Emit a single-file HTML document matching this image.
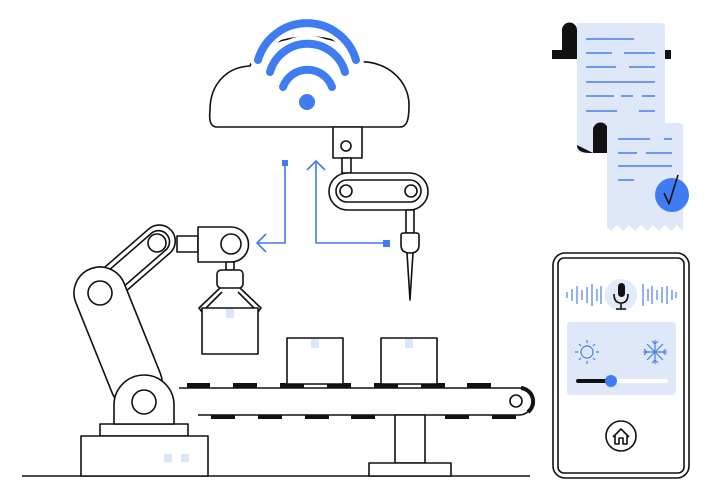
<!DOCTYPE html>
<html><head><meta charset="utf-8"><style>html,body{margin:0;padding:0;background:#fff}svg{display:block}</style></head>
<body>
<svg width="713" height="500" viewBox="0 0 713 500" xmlns="http://www.w3.org/2000/svg" fill="none" stroke="#111" stroke-width="1.6" stroke-linejoin="round">
<!-- ground -->
<line x1="22" y1="476" x2="530" y2="476"/>
<!-- cloud -->
<path d="M217 127 C210 127 209 120 210 110 C210 85 226 67 250 66 C262 28 352 28 358 62 C386 60 409 80 409 105 C409 120 407 127 400 127 Z" fill="#fff"/>
<g stroke-linecap="round">
<path d="M258 60 A51 51 0 0 1 356 60" stroke="#fff" stroke-width="16"/>
<path d="M270 72 A39 39 0 0 1 345 72" stroke="#fff" stroke-width="16"/>
<path d="M258 60 A51 51 0 0 1 356 60" stroke="#3f7cf2" stroke-width="8"/>
<path d="M270 72 A39 39 0 0 1 345 72" stroke="#3f7cf2" stroke-width="8"/>
<path d="M283 87 A26 26 0 0 1 332 87" stroke="#3f7cf2" stroke-width="8"/>
</g>
<circle cx="307" cy="102" r="8" fill="#3f7cf2" stroke="none"/>
<!-- top robot -->
<rect x="333" y="127" width="29" height="31" fill="#fff"/>
<circle cx="346" cy="146" r="5"/>
<rect x="342" y="158" width="9" height="15" fill="#fff"/>
<rect x="329" y="173" width="99" height="37" rx="18.5" fill="#fff"/>
<rect x="336" y="180" width="85" height="22" rx="11"/>
<circle cx="346" cy="191" r="6"/><circle cx="411" cy="191" r="6"/>
<rect x="406" y="210" width="8" height="23" fill="#fff"/>
<path d="M401 235 Q401 233 404 233 L416 233 Q419 233 419 235 L419 245 Q419 253 410 253 Q401 253 401 245 Z" fill="#fff"/>
<path d="M407 253 L410 300 L413 253"/>
<!-- blue connectors -->
<g stroke="#3f7cf2" stroke-width="1.6">
<path d="M285 163 V243 H257"/><path d="M266 234 L257 243 L266 252"/>
<path d="M316 161 V243 H386"/><path d="M307 170 L316 161 L325 170"/>
</g>
<rect x="282" y="160" width="6" height="6" fill="#3f7cf2" stroke="none"/>
<rect x="383" y="240" width="7" height="7" fill="#3f7cf2" stroke="none"/>
<!-- conveyor -->
<path d="M179 388 H519 A13.5 13.5 0 0 1 519 415 H198"/>
<path d="M521 388 A13.5 13.5 0 0 1 528 412" stroke-width="4"/>
<circle cx="516" cy="401" r="6"/>
<g fill="#111" stroke="none">
<rect x="187" y="383" width="23" height="5"/><rect x="233" y="383" width="24" height="5"/>
<rect x="280" y="383" width="24" height="5"/><rect x="327" y="383" width="24" height="5"/>
<rect x="374" y="383" width="24" height="5"/><rect x="421" y="383" width="24" height="5"/>
<rect x="467" y="383" width="24" height="5"/>
<rect x="211" y="415" width="24" height="4"/><rect x="258" y="415" width="24" height="4"/>
<rect x="305" y="415" width="24" height="4"/><rect x="351" y="415" width="24" height="4"/>
<rect x="398" y="415" width="24" height="4"/><rect x="445" y="415" width="24" height="4"/>
<rect x="492" y="415" width="24" height="4"/>
</g>
<rect x="287" y="338" width="56" height="46" fill="#fff"/>
<rect x="381" y="338" width="56" height="46" fill="#fff"/>
<rect x="311" y="339" width="8" height="9" fill="#dbe6f8" stroke="none"/>
<rect x="405" y="339" width="8" height="9" fill="#dbe6f8" stroke="none"/>
<rect x="395" y="415" width="30" height="48" fill="#fff"/>
<rect x="369" y="463" width="82" height="13" fill="#fff"/>
<!-- big robot arm -->
<rect x="100" y="424" width="88" height="12" fill="#fff"/>
<rect x="81" y="436" width="127" height="40" fill="#fff"/>
<rect x="164" y="454" width="8" height="8" fill="#dbe6f8" stroke="none"/>
<rect x="181" y="454" width="8" height="8" fill="#dbe6f8" stroke="none"/>
<!-- upper arm -->
<g transform="rotate(-41 157 243)">
<rect x="80" y="227" width="96" height="32" rx="16" fill="#fff"/>
<rect x="86" y="232" width="84" height="22" rx="11"/>
</g>
<circle cx="157" cy="243" r="9"/>
<!-- lower arm -->
<g transform="rotate(-21.9 100 293)">
<rect x="74" y="267" width="52" height="149" rx="26" fill="#fff"/>
</g>
<circle cx="100" cy="293" r="12"/>
<path d="M114 424 V405 A30 30 0 0 1 174 405 V424 Z" fill="#fff"/>
<circle cx="144" cy="402" r="12"/>
<rect x="177" y="236" width="21" height="16" fill="#fff"/>
<path d="M198 227 H231 A17.5 17.5 0 0 1 231 262 H198 Z" fill="#fff"/>
<circle cx="231" cy="244" r="10"/>
<!-- gripper -->
<rect x="226" y="262" width="8" height="8" fill="#fff"/>
<rect x="217" y="270" width="26" height="18" rx="4" fill="#fff"/>
<path d="M220 288 L199 308 L202 312 L222 292 M240 288 L261 308 L258 312 L238 292"/>
<rect x="202" y="308" width="56" height="46" fill="#fff"/>
<rect x="226" y="309" width="8" height="9" fill="#dbe6f8" stroke="none"/>
<!-- receipts -->
<rect x="552" y="50" width="26" height="9" fill="#111" stroke="none"/>
<rect x="663" y="50" width="8" height="9" fill="#111" stroke="none"/>
<path d="M562 55 V30 A7.5 7.5 0 0 1 577 30 V55 Z" fill="#111" stroke="none"/>
<path d="M577 23 H661 Q665 23 665 27 V153 H581 Q577 153 577 149 Z" fill="#dfe8f9" stroke="none"/>
<g stroke="#4a7fe8" stroke-width="1.5">
<path d="M586 39 H634 M586 53 H612 M624 53 H655 M586 67 H616 M629 67 H655 M586 82 H655 M586 96 H614 M621 96 H633 M642 96 H655 M586 111 H617 M639 111 H655"/>
</g>
<path d="M593 153 V130 A7.5 7.5 0 0 1 608 130 V153 Z" fill="#111" stroke="none"/>
<path d="M577 145 Q577 153 590 153 L593 153 Z" fill="#111" stroke="none"/>
<path d="M607 123 H679 Q683 123 683 127 V231 L677 225 L671 231 L665 225 L659 231 L653 225 L647 231 L641 225 L635 231 L629 225 L623 231 L617 225 L611 231 L607 227 Z" fill="#dfe8f9" stroke="none"/>
<g stroke="#4a7fe8" stroke-width="1.5">
<path d="M618 139 H650 M664 139 H672 M618 153 H637 M646 153 H672 M618 166 H672 M618 180 H634"/>
</g>
<circle cx="672" cy="195" r="17" fill="#3f7cf2" stroke="none"/>
<path d="M664 193 L669 204 L678 175"/>
<!-- phone -->
<rect x="553" y="253" width="136" height="225" rx="12" fill="#fff"/>
<rect x="558" y="258" width="126" height="215" rx="6"/>
<circle cx="621" cy="295" r="16" fill="#e3ebf9" stroke="none"/>
<rect x="618" y="283" width="7" height="14" rx="3.5" fill="#111" stroke="none"/>
<path d="M614 294 Q614 303 621 303 Q628 303 628 294 M621 303 V309 M616 309 H626"/>
<g stroke="#4a7fe8" stroke-width="1.2">
<path d="M567 292 V298 M572 289 V301 M577 286 V304 M582 290 V300 M587 287 V303 M592 284 V306 M597 289 V301 M601 286 V304 M643 284 V306 M648 289 V301 M652 286 V304 M657 290 V300 M662 287 V303 M667 286 V304 M672 290 V300 M676 292 V298"/>
</g>
<rect x="567" y="322" width="109" height="73" rx="3" fill="#dfe8f9" stroke="none"/>
<g stroke="#4a7fe8" stroke-width="1.2">
<circle cx="587" cy="352" r="6"/>
<path d="M587 340 V343 M587 361 V364 M575 352 H578 M596 352 H599 M579 344 L581 346 M593 358 L595 360 M579 360 L581 358 M593 346 L595 344"/>
<path d="M655 340 V364 M643 352 H667 M647 344 L663 360 M647 360 L663 344 M652 341 L655 344 L658 341 M652 363 L655 360 L658 363 M644 349 L647 352 L644 355 M666 349 L663 352 L666 355"/>
</g>
<line x1="578" y1="381" x2="666" y2="381" stroke="#fff" stroke-width="4" stroke-linecap="round"/>
<line x1="578" y1="381" x2="611" y2="381" stroke="#111" stroke-width="4" stroke-linecap="round"/>
<circle cx="611" cy="381" r="6" fill="#3f7cf2" stroke="none"/>
<circle cx="621" cy="436" r="15"/>
<path d="M613 437 L621 429 L629 437 M615 435 V444 H619 V438 H623 V444 H627 V435"/>
</svg>
</body></html>
